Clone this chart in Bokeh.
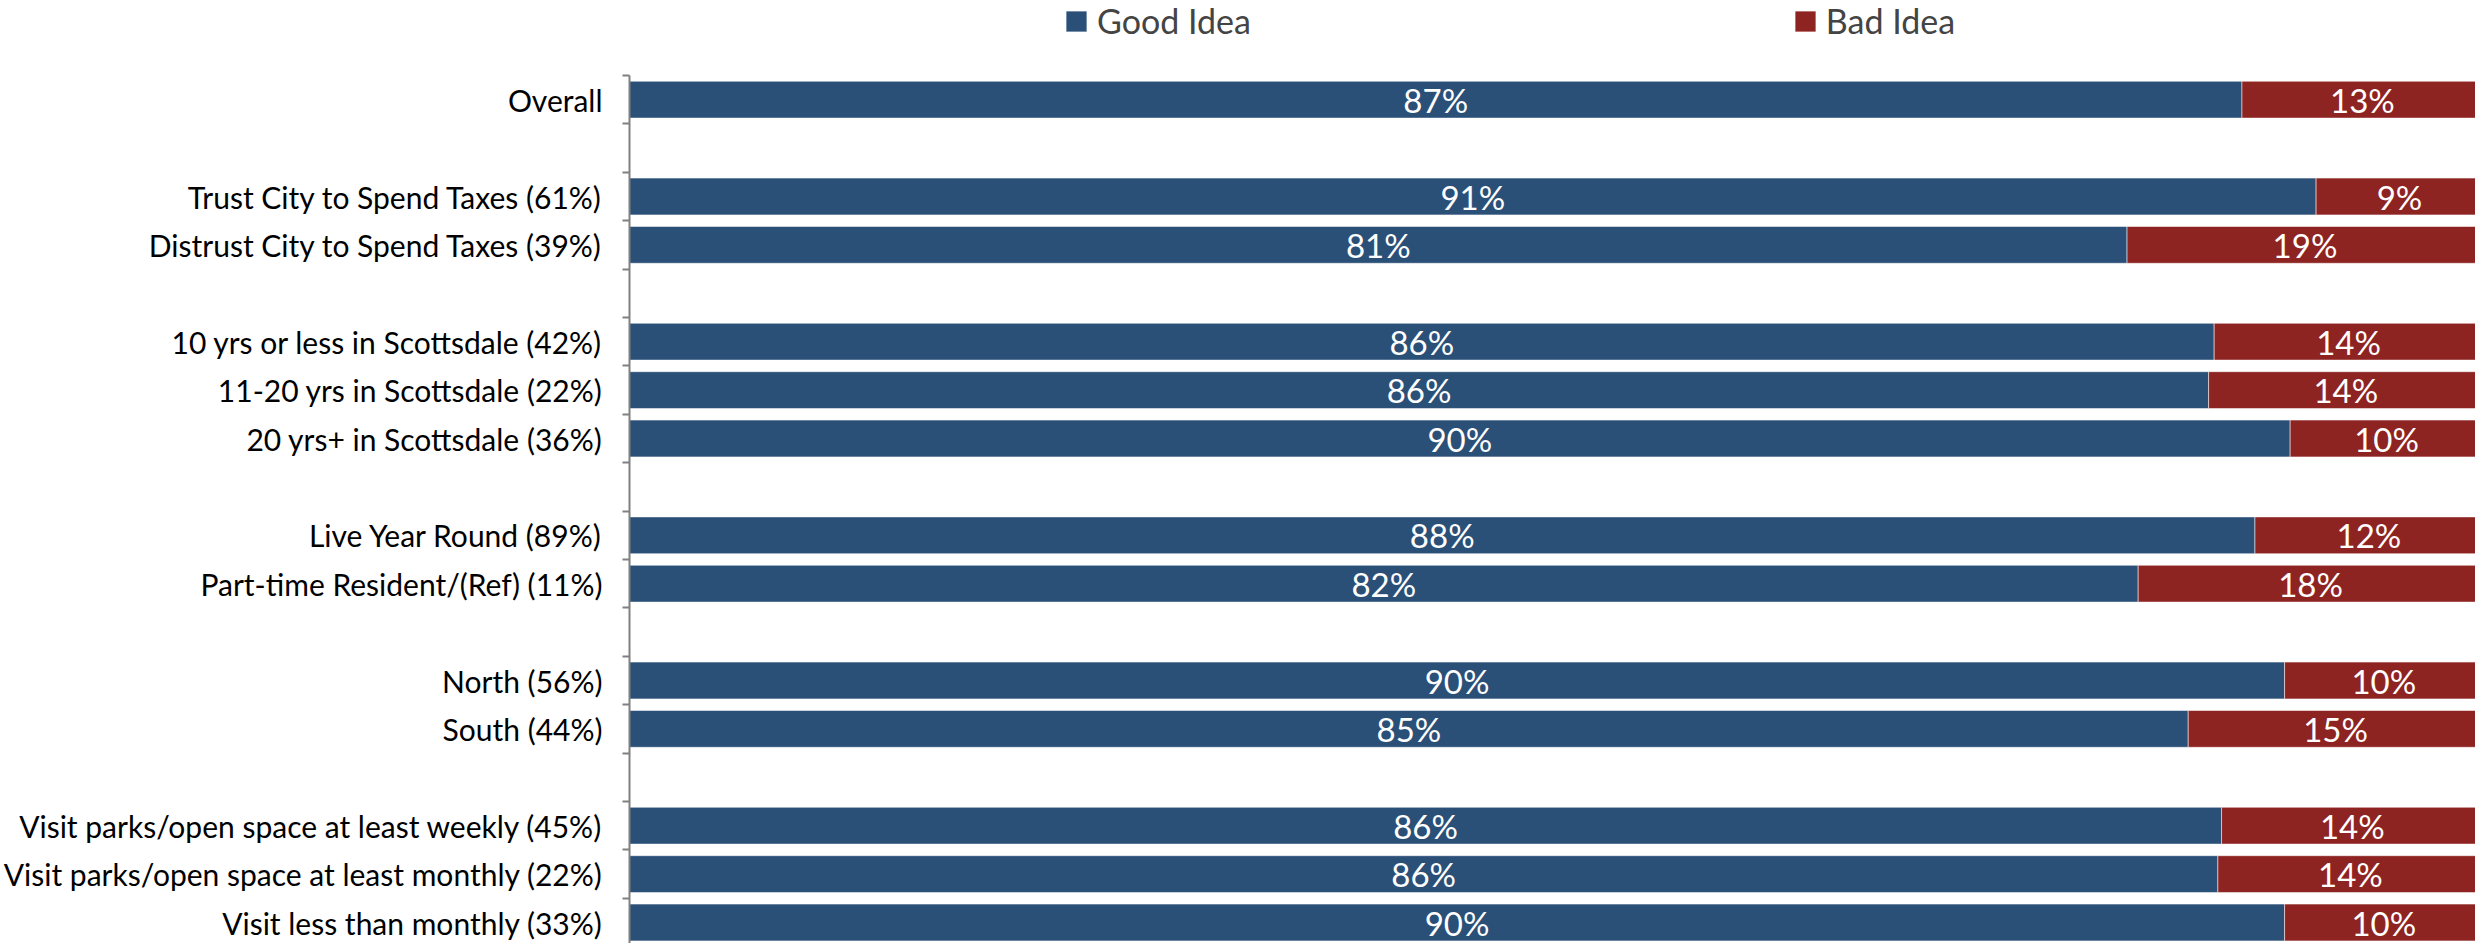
from bokeh.plotting import figure
from bokeh.models import (ColumnDataSource, Range1d, FixedTicker, Legend, LegendItem)
from bokeh.core.properties import value
from bokeh.embed import file_html
from bokeh.resources import INLINE

# ---- data ----
categories = ["Overall", "",
              "Trust City to Spend Taxes (61%)", "Distrust City to Spend Taxes (39%)", "",
              "10 yrs or less in Scottsdale (42%)", "11-20 yrs in Scottsdale (22%)",
              "20 yrs+ in Scottsdale (36%)", "",
              "Live Year Round (89%)", "Part-time Resident/(Ref) (11%)", "",
              "North (56%)", "South (44%)", "",
              "Visit parks/open space at least weekly (45%)",
              "Visit parks/open space at least monthly (22%)",
              "Visit less than monthly (33%)"]
good_idea = [87.0, None, 91.0, 80.8, None, 85.5, 85.2, 89.6, None, 87.7, 81.4, None,
             89.3, 84.1, None, 85.9, 85.7, 89.3]
good_labels = ["87%", None, "91%", "81%", None, "86%", "86%", "90%", None, "88%", "82%", None,
               "90%", "85%", None, "86%", "86%", "90%"]
bad_labels = ["13%", None, "9%", "19%", None, "14%", "14%", "10%", None, "12%", "18%", None,
              "10%", "15%", None, "14%", "14%", "10%"]
series_names = ["Good Idea", "Bad Idea"]

BLUE = "#2B5078"
RED = "#8E2422"
FONT = "Lato"

rows = [i for i, gv in enumerate(good_idea) if gv is not None]
g = [good_idea[i] / 100 for i in rows]
src = ColumnDataSource(dict(
    y=rows,
    g0=[0] * len(rows), g1=g,
    b0=g, b1=[1] * len(rows),
    gx=[v / 2 for v in g], bx=[v + (1 - v) / 2 for v in g],
    gl=[good_labels[i] for i in rows], bl=[bad_labels[i] for i in rows],
))

n = len(categories)
H = 943
ROW_PX = 48.4
y_top = -0.5 - 75 / ROW_PX          # head room for the legend
y_bot = y_top + H / ROW_PX
p = figure(width=2475, height=H, output_backend="svg", toolbar_location=None,
           x_range=Range1d(0, 0.996), y_range=Range1d(y_bot, y_top),
           min_border_right=0, min_border_bottom=0, min_border_top=0, min_border_left=0)
p.outline_line_color = None
p.xgrid.visible = False
p.ygrid.visible = False
p.xaxis.visible = False

rg = p.hbar(y="y", left="g0", right="g1", height=0.76, source=src, fill_color=BLUE,
            line_color="white", line_alpha=0.5, line_width=1)
rb = p.hbar(y="y", left="b0", right="b1", height=0.76, source=src, fill_color=RED,
            line_color="white", line_alpha=0.5, line_width=1)
for col_x, col_t in (("gx", "gl"), ("bx", "bl")):
    p.text(x=col_x, y="y", text=col_t, source=src, text_color="white",
           text_font=value(FONT), text_font_size="33px",
           text_align="center", text_baseline="middle")

ax = p.yaxis[0]
ax.bounds = (-0.5, y_bot)
ax.ticker = FixedTicker(ticks=list(range(n)),
                        minor_ticks=[i - 0.5 for i in range(n + 1)])
ax.major_label_overrides = {i: c for i, c in enumerate(categories)}
ax.major_tick_out = 0
ax.major_tick_in = 0
ax.minor_tick_out = 7
ax.minor_tick_in = 0
ax.minor_tick_line_color = "#808080"
ax.minor_tick_line_width = 2
ax.axis_line_color = "#808080"
ax.axis_line_width = 2
ax.major_label_text_font = FONT
ax.major_label_text_font_size = "30px"
ax.major_label_text_color = "black"
ax.major_label_standoff = 20

legend = Legend(items=[LegendItem(label=series_names[0], renderers=[rg]),
                       LegendItem(label=series_names[1], renderers=[rb])],
                orientation="horizontal", location=(434, 902),
                glyph_width=26, glyph_height=26, label_standoff=8, spacing=541,
                label_text_font=FONT, label_text_font_size="34px",
                label_text_baseline="middle",
                border_line_color=None, background_fill_alpha=0,
                padding=0, margin=0)
p.add_layout(legend, "center")

open("out.html", "w").write(file_html(p, INLINE))
